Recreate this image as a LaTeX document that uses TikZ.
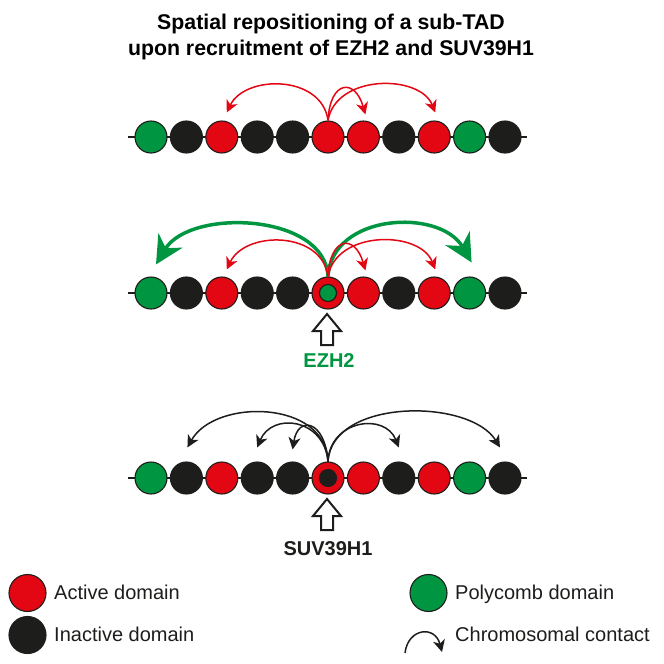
\documentclass[tikz,border=0pt]{standalone}
\usepackage{fontspec}
\setmainfont{Liberation Sans}
\usetikzlibrary{arrows.meta}
\definecolor{cred}{HTML}{E30613}
\definecolor{cgreen}{HTML}{009540}
\definecolor{cblack}{HTML}{1D1D1B}
\tikzset{
  bead/.style={circle,draw=cblack,line width=1.1pt,minimum size=32pt,inner sep=0pt,fill=#1},
  innerbead/.style={circle,draw=cblack,line width=1.1pt,minimum size=17pt,inner sep=0pt,fill=#1},
  legbead/.style={circle,draw=cblack,line width=1.1pt,minimum size=37pt,inner sep=0pt,fill=#1},
  chain/.style={draw=cblack,line width=1.1pt},
  redarc/.style={draw=cred,line width=1.5pt,-{Stealth[length=12pt,width=12pt,inset=3.5pt]}},
  blackarc/.style={draw=cblack,line width=1.5pt,-{Stealth[length=12pt,width=12pt,inset=3.5pt]}},
  greenarc/.style={draw=cgreen,line width=3.5pt,-{Stealth[length=28pt,width=28pt,inset=9pt]}},
  blockarrow/.style={draw=cblack,fill=white,line width=2pt,line join=miter},
  titletext/.style={font=\bfseries\fontsize{21.3}{25}\selectfont,anchor=base,inner sep=0pt},
  legtext/.style={font=\fontsize{20}{24}\selectfont,anchor=base west,inner sep=0pt,text=cblack},
  labtext/.style={font=\bfseries\fontsize{20}{24}\selectfont,anchor=base,inner sep=0pt}
}
\begin{document}
\begin{tikzpicture}[x=1pt,y=-1pt]
\useasboundingbox (0,0) rectangle (664,664);
% title
\node[titletext] (t1) at (331,29) {Spatial repositioning of a sub-TAD};
\node[titletext] (t2) at (331,55) {upon recruitment of EZH2 and SUV39H1};
% chains
\foreach \r/\yy in {1/137,2/293,3/478}{
  \coordinate (r\r L) at (128,\yy);
  \coordinate (r\r R) at (527,\yy);
  \draw[chain] (r\r L) -- (r\r R);
  \foreach \c/\col in {0/cgreen,1/cblack,2/cred,3/cblack,4/cblack,5/cred,6/cred,7/cblack,8/cred,9/cgreen,10/cblack}{
    \node[bead=\col] (r\r c\c) at (151+35.4*\c,\yy) {};
  }
}
\node[innerbead=cgreen] (in2) at (r2c5) {};
\node[innerbead=cblack] (in3) at (r3c5) {};
% row 1 arcs
\draw[redarc] (r1c5.north) .. controls (322,74.5) and (245,74.5) .. ([xshift=5pt,yshift=8pt]r1c2.north);
\draw[redarc] (r1c5.north) .. controls (330,80) and (355,78) .. ([xshift=2pt,yshift=6pt]r1c6.north);
\draw[redarc] (r1c5.north) .. controls (336,74) and (420,74) .. ([xshift=1pt,yshift=8pt]r1c8.north);
% row 2 arcs
\draw[greenarc] (r2c5.north) .. controls (325,213) and (190,208) .. ([xshift=5pt,yshift=12pt]r2c0.north);
\draw[greenarc] (r2c5.north) .. controls (332,213) and (440,208) .. ([xshift=2pt,yshift=14pt]r2c9.north);
\draw[redarc] (r2c5.north) .. controls (322,230.5) and (245,230.5) .. ([xshift=5pt,yshift=7pt]r2c2.north);
\draw[redarc] (r2c5.north) .. controls (330,236) and (355,234) .. ([xshift=2pt,yshift=6pt]r2c6.north);
\draw[redarc] (r2c5.north) .. controls (336,230) and (420,230) .. ([xshift=1pt,yshift=7pt]r2c8.north);
% EZH2 block arrow
\draw[blockarrow] (327,314) -- (341,331) -- (333,331) -- (333,345) -- (321,345) -- (321,331) -- (313,331) -- cycle;
\node[labtext,text=cgreen] (ezh) at (329,367) {EZH2};
% row 3 arcs
\draw[blackarc] (r3c5.north) .. controls (326,400) and (215,398) .. ([xshift=1pt,yshift=14pt]r3c1.north);
\draw[blackarc] (r3c5.north) .. controls (324,418) and (272,412) .. ([yshift=14pt]r3c3.north);
\draw[blackarc] (r3c5.north) .. controls (325,420) and (298,415) .. ([yshift=12pt]r3c4.north);
\draw[blackarc] (r3c5.north) .. controls (330,420) and (385,412) .. ([yshift=14pt]r3c7.north);
\draw[blackarc] (r3c5.north) .. controls (332,398) and (470,398) .. ([xshift=-5pt,yshift=14pt]r3c10.north);
% SUV39H1 block arrow
\draw[blockarrow] (327,499) -- (341,516) -- (333,516) -- (333,530) -- (321,530) -- (321,516) -- (313,516) -- cycle;
\node[labtext,text=cblack] (suv) at (328,555) {SUV39H1};
% legend
\node[legbead=cred] (la) at (27.5,593) {};
\node[legtext] (lat) at (54,599) {Active domain};
\node[legbead=cblack] (li) at (27.5,635) {};
\node[legtext] (lit) at (54,641) {Inactive domain};
\node[legbead=cgreen] (lp) at (428.5,593) {};
\node[legtext] (lpt) at (455,599) {Polycomb domain};
\coordinate (lc0) at (405,653);
\coordinate (lc1) at (442,652);
\draw[blackarc] (lc0) .. controls (408,628) and (435,625) .. (lc1);
\node[legtext] (lct) at (455,641) {Chromosomal contact};
\end{tikzpicture}
\end{document}
